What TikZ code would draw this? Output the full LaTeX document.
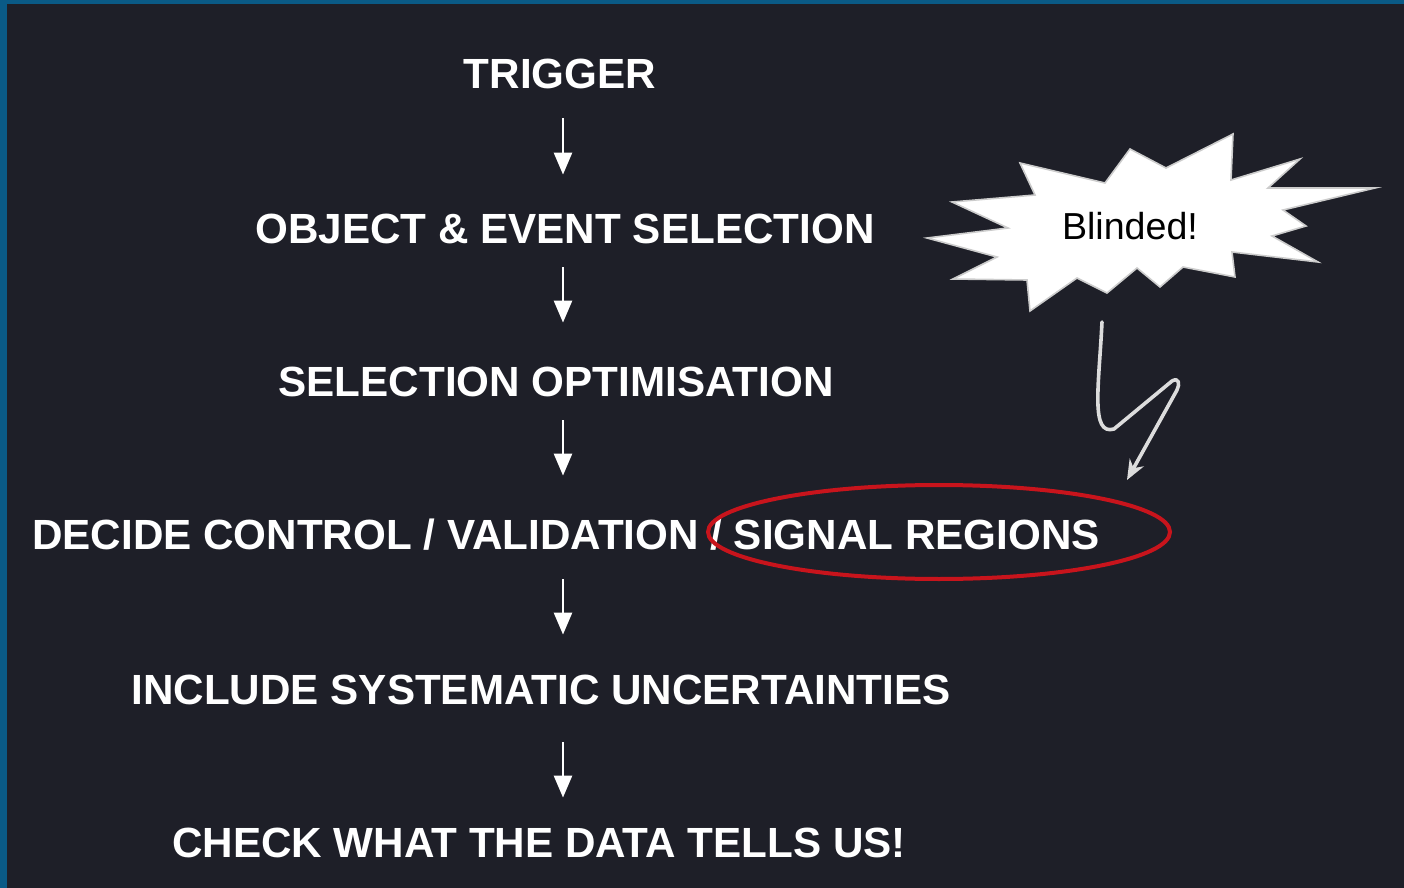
\documentclass[tikz,border=0pt]{standalone}
\usepackage{fontspec}
\setmainfont{Liberation Sans}
\usetikzlibrary{arrows.meta}
\definecolor{bgdark}{HTML}{1E1F28}
\definecolor{frameblue}{HTML}{0A5A86}
\definecolor{circred}{HTML}{C8141C}
\definecolor{zigcol}{HTML}{DCDCDC}
\begin{document}
\begin{tikzpicture}[x=0.5pt,y=-0.5pt,
  stage/.style={text=white, font=\fontsize{21.1}{24}\selectfont\bfseries, inner sep=0pt, text height=15pt, text depth=0pt, anchor=base},
  flow/.style={draw=white, line width=1.3pt, -{Triangle[width=9pt,length=11pt]}},
  burst/.style={fill=white, draw=white!80!black, line width=0.8pt, line join=miter},
  zig/.style={draw=zigcol, line width=1.8pt, line cap=round, line join=round, -{Stealth[length=10pt,width=8pt]}},
  ring/.style={draw=circred, line width=2pt}]
% background and frame
\fill[frameblue] (0,0) rectangle (1404,888);
\fill[bgdark] (7,4) rectangle (1404,888);
\useasboundingbox (0,0) rectangle (1404,888);

% stages
\node[stage] (trig) at (560,89) {TRIGGER};
\node[stage] (obj) at (565,243) {OBJECT \& EVENT SELECTION};
\node[stage] (opt) at (556,396) {SELECTION OPTIMISATION};
\node[stage] (dec) at (566,549) {DECIDE CONTROL / VALIDATION / SIGNAL REGIONS};
\node[stage] (inc) at (541,704) {INCLUDE SYSTEMATIC UNCERTAINTIES};
\node[stage] (chk) at (539,857) {CHECK WHAT THE DATA TELLS US!};

% arrows
\coordinate (ax) at (563,0);
\draw[flow, shorten <=14.5pt, shorten >=19pt] (trig.south -| ax) -- (obj.north -| ax);
\draw[flow, shorten <=12pt, shorten >=21.5pt] (obj.south -| ax) -- (opt.north -| ax);
\draw[flow, shorten <=12pt, shorten >=21.5pt] (opt.south -| ax) -- (dec.north -| ax);
\draw[flow, shorten <=15pt, shorten >=19.5pt] (dec.south -| ax) -- (inc.north -| ax);
\draw[flow, shorten <=19pt, shorten >=14.5pt] (inc.south -| ax) -- (chk.north -| ax);

% red ellipse around signal regions
\draw[ring] (939,532) ellipse [x radius=231, y radius=47];

% starburst
\draw[burst] (927,238) -- (1008,228) -- (952,202) -- (1035,195) -- (1020,163)
  -- (1105,183) -- (1130,149) -- (1166,168) -- (1233,134) -- (1231,180)
  -- (1300,159) -- (1268,188) -- (1375,188) -- (1283,210) -- (1306,226)
  -- (1272,236) -- (1318,262) -- (1232,252) -- (1235,277) -- (1183,267)
  -- (1160,287) -- (1137,268) -- (1107,293) -- (1077,278) -- (1030,311)
  -- (1027,280) -- (953,279) -- (997,257) -- cycle;
\node[text=black, font=\fontsize{18.8}{22}\selectfont, inner sep=0pt] (blind) at (1130,226) {Blinded!};

% zigzag arrow
\coordinate (zs) at (1102,322);
\coordinate (ze) at (1127,480);
\draw[zig] (zs) .. controls (1099,385) and (1090,436) .. (1114,429) -- (1172,381)
  .. controls (1179,377) and (1180,384) .. (1177,390) -- (ze);
\end{tikzpicture}
\end{document}
